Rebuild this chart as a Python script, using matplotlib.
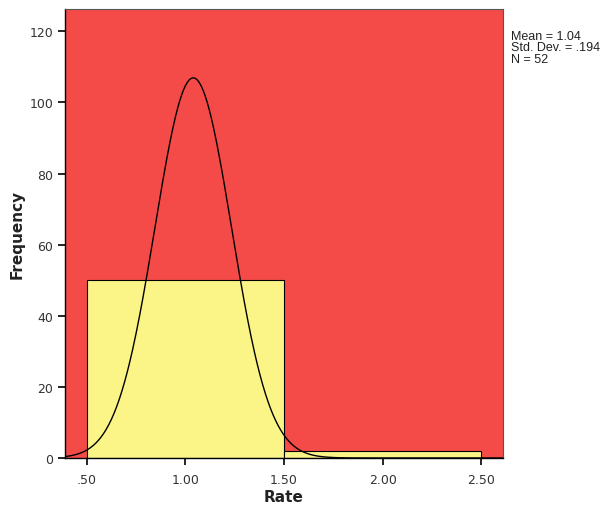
import numpy as np
import matplotlib
matplotlib.use('Agg')
import matplotlib.pyplot as plt

# histogram bins and counts
bin_edges = [0.5, 1.5, 2.5]
counts = [50, 2]
# summary stats shown on the chart
mean_val = 1.04
sd_val = 0.194
n_val = 52

xticks = [0.5, 1.0, 1.5, 2.0, 2.5]
xticklabels = ['.50', '1.00', '1.50', '2.00', '2.50']
yticks = [0, 20, 40, 60, 80, 100, 120]

fig = plt.figure(figsize=(6.04, 5.06), dpi=100)
ax = fig.add_axes([65 / 604, 47 / 506, 438 / 604, 449 / 506])
ax.set_facecolor('#F44B48')

widths = np.diff(bin_edges)
ax.bar(bin_edges[:-1], counts, width=widths, align='edge', color='#FBF587',
       edgecolor='black', linewidth=0.8, zorder=2)

# normal curve scaled to the histogram
xlo, xhi = 0.39, 2.61
xs = np.linspace(xlo, xhi, 500)
ys = n_val * widths[0] / (sd_val * np.sqrt(2 * np.pi)) * np.exp(-0.5 * ((xs - mean_val) / sd_val) ** 2)
ax.plot(xs, ys, color='black', linewidth=1.0, zorder=3)

ax.set_xlim(xlo, xhi)
ax.set_ylim(0, 126.3)
ax.set_xticks(xticks)
ax.set_xticklabels(xticklabels)
ax.set_yticks(yticks)
ax.tick_params(axis='both', labelsize=9, labelcolor='#333333', length=5, width=1.2)
ax.tick_params(axis='x', pad=6)
for s in ['top', 'right']:
    ax.spines[s].set_linewidth(0.8)
    ax.spines[s].set_color('#555555')
for s in ['left', 'bottom']:
    ax.spines[s].set_linewidth(1.0)

ax.set_xlabel('Rate', fontsize=11, fontweight='bold', color='#222222', va='center')
ax.set_ylabel('Frequency', fontsize=11, fontweight='bold', color='#222222', va='center')
ax.xaxis.set_label_coords(0.5, -0.085)
ax.yaxis.set_label_coords(-0.11, 0.5)

fig.text(511 / 604, 1 - 31 / 506, 'Mean = 1.04\nStd. Dev. = .194\nN = 52',
         fontsize=9, family='Liberation Sans', va='top', ha='left',
         linespacing=0.92, color='#222222')

fig.savefig('out.png', dpi=100)
